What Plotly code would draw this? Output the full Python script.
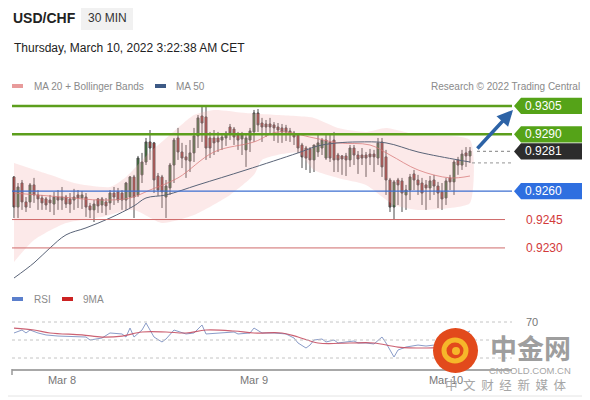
import pandas as pd
import plotly.graph_objects as go

# ---------------- data ----------------
times = pd.date_range("2022-03-07 18:00", periods=115, freq="30min")

open_ = [0.92675,0.92516,0.92643,0.92543,0.92543,0.92633,0.92580,0.92564,0.92559,0.92553,
         0.92532,0.92569,0.92553,0.92569,0.92559,0.92553,0.92580,0.92564,0.92569,0.92522,
         0.92501,0.92559,0.92527,0.92543,0.92538,0.92590,0.92596,0.92590,0.92553,0.92569,
         0.92675,0.92580,0.92686,0.92754,0.92860,0.92855,0.92680,0.92675,0.92569,0.92617,
         0.92738,0.92881,0.92807,0.92781,0.92759,0.92802,0.92892,0.92997,0.92992,0.92881,
         0.92881,0.92881,0.92870,0.92881,0.92939,0.92928,0.92897,0.92876,0.92818,0.92870,
         0.92913,0.93013,0.92960,0.92955,0.92955,0.92950,0.92939,0.92934,0.92934,0.92902,
         0.92907,0.92897,0.92844,0.92828,0.92823,0.92765,0.92807,0.92828,0.92775,0.92860,
         0.92870,0.92791,0.92786,0.92786,0.92765,0.92828,0.92791,0.92791,0.92791,0.92796,
         0.92796,0.92775,0.92860,0.92781,0.92659,0.92516,0.92659,0.92654,0.92580,0.92606,
         0.92691,0.92659,0.92643,0.92633,0.92617,0.92659,0.92627,0.92596,0.92564,0.92670,
         0.92649,0.92765,0.92738,0.92802,0.92786]
high = [0.92680,0.92643,0.92659,0.92569,0.92643,0.92670,0.92606,0.92580,0.92569,0.92580,
        0.92596,0.92606,0.92622,0.92580,0.92590,0.92612,0.92606,0.92601,0.92590,0.92538,
        0.92553,0.92564,0.92569,0.92564,0.92606,0.92622,0.92617,0.92606,0.92649,0.92680,
        0.92686,0.92786,0.92802,0.92881,0.92923,0.92860,0.92696,0.92686,0.92659,0.92749,
        0.92881,0.92934,0.92855,0.92844,0.92870,0.92934,0.93002,0.93055,0.93055,0.92913,
        0.92923,0.92913,0.92907,0.92918,0.92955,0.92939,0.92913,0.92913,0.92897,0.92934,
        0.93029,0.93034,0.92987,0.92976,0.92987,0.92965,0.92960,0.92955,0.92950,0.92934,
        0.92918,0.92907,0.92855,0.92839,0.92833,0.92844,0.92907,0.92881,0.92902,0.92897,
        0.92913,0.92802,0.92791,0.92802,0.92844,0.92844,0.92812,0.92828,0.92807,0.92823,
        0.92818,0.92881,0.92881,0.92818,0.92670,0.92659,0.92670,0.92670,0.92633,0.92691,
        0.92712,0.92686,0.92670,0.92659,0.92680,0.92686,0.92649,0.92643,0.92670,0.92686,
        0.92765,0.92781,0.92818,0.92833,0.92833]
low = [0.92458,0.92458,0.92501,0.92490,0.92511,0.92538,0.92501,0.92501,0.92501,0.92490,
       0.92474,0.92501,0.92501,0.92511,0.92485,0.92501,0.92511,0.92506,0.92464,0.92458,
       0.92437,0.92485,0.92485,0.92474,0.92501,0.92527,0.92538,0.92501,0.92501,0.92511,
       0.92458,0.92569,0.92643,0.92738,0.92765,0.92590,0.92575,0.92511,0.92458,0.92580,
       0.92643,0.92765,0.92722,0.92670,0.92701,0.92754,0.92828,0.92860,0.92765,0.92775,
       0.92791,0.92807,0.92818,0.92839,0.92870,0.92844,0.92818,0.92791,0.92728,0.92807,
       0.92860,0.92913,0.92860,0.92886,0.92897,0.92865,0.92855,0.92855,0.92865,0.92860,
       0.92844,0.92802,0.92722,0.92712,0.92696,0.92701,0.92781,0.92791,0.92765,0.92754,
       0.92701,0.92701,0.92686,0.92680,0.92728,0.92738,0.92691,0.92738,0.92675,0.92738,
       0.92701,0.92738,0.92675,0.92580,0.92490,0.92448,0.92527,0.92490,0.92501,0.92553,
       0.92606,0.92580,0.92527,0.92501,0.92553,0.92580,0.92511,0.92501,0.92527,0.92606,
       0.92580,0.92686,0.92712,0.92728,0.92749]
close = [0.92516,0.92622,0.92543,0.92516,0.92633,0.92580,0.92559,0.92538,0.92527,0.92538,
         0.92569,0.92553,0.92569,0.92532,0.92532,0.92569,0.92564,0.92580,0.92516,0.92501,
         0.92532,0.92522,0.92559,0.92522,0.92590,0.92569,0.92553,0.92553,0.92643,0.92675,
         0.92569,0.92775,0.92754,0.92860,0.92828,0.92659,0.92606,0.92596,0.92627,0.92738,
         0.92870,0.92807,0.92775,0.92765,0.92802,0.92892,0.92987,0.92960,0.92828,0.92828,
         0.92855,0.92860,0.92886,0.92907,0.92907,0.92886,0.92870,0.92897,0.92881,0.92918,
         0.93013,0.92950,0.92939,0.92939,0.92939,0.92934,0.92923,0.92913,0.92913,0.92918,
         0.92886,0.92828,0.92781,0.92775,0.92765,0.92844,0.92855,0.92870,0.92870,0.92775,
         0.92765,0.92765,0.92770,0.92765,0.92828,0.92791,0.92770,0.92775,0.92775,0.92781,
         0.92781,0.92855,0.92728,0.92659,0.92516,0.92649,0.92633,0.92590,0.92606,0.92675,
         0.92659,0.92633,0.92590,0.92617,0.92654,0.92627,0.92590,0.92559,0.92654,0.92649,
         0.92754,0.92738,0.92796,0.92786,0.92812]

ma50_idx = [0, 5, 9, 13, 18, 24, 30, 33, 38, 46, 58, 71, 76, 81, 86, 93, 101, 111, 114]
ma50_val = [0.92141, 0.92221, 0.92300, 0.92369, 0.92406, 0.92458, 0.92522, 0.92564, 0.92580,
            0.92633, 0.92712, 0.92802, 0.92839, 0.92855, 0.92860, 0.92855, 0.92807, 0.92765, 0.92754]

ma20_idx = [0, 12, 22, 29, 34, 41, 50, 60, 66, 75, 81, 89, 94, 101, 109, 114]
ma20_val = [0.92590, 0.92569, 0.92553, 0.92564, 0.92606, 0.92670, 0.92807, 0.92860, 0.92913,
            0.92881, 0.92855, 0.92844, 0.92791, 0.92712, 0.92670, 0.92680]

bb_up_idx = [0, 9, 15, 24, 28, 34, 39, 45, 50, 58, 66, 75, 81, 88, 93, 101, 114]
bb_up_val = [0.92749, 0.92686, 0.92643, 0.92622, 0.92675, 0.92807, 0.92897, 0.93002, 0.93029,
             0.93013, 0.93002, 0.92987, 0.92934, 0.92913, 0.92934, 0.92897, 0.92870]
bb_lo_idx = [0, 5, 13, 22, 30, 37, 45, 54, 60, 62, 71, 75, 81, 88, 95, 101, 109, 114]
bb_lo_val = [0.92226, 0.92342, 0.92432, 0.92464, 0.92501, 0.92432, 0.92474, 0.92580, 0.92686,
             0.92765, 0.92802, 0.92712, 0.92670, 0.92633, 0.92527, 0.92501, 0.92511, 0.92538]

rsi_idx = [0, 2, 3, 4, 6, 8, 11, 15, 18, 19, 22, 24, 27, 28, 29, 30, 32, 33, 35, 37, 38, 40, 42,
           43, 45, 47, 48, 52, 55, 56, 59, 60, 62, 65, 68, 70, 71, 73, 74, 75, 77, 78, 80, 81, 83,
           85, 86, 88, 90, 92, 93, 95, 96, 98, 101, 103, 105, 108, 110, 112, 114]
rsi_val = [57.8, 61.1, 57.8, 61.1, 57.8, 55.6, 54.4, 53.3, 53.3, 50.0, 52.2, 57.8, 56.7, 53.3,
           63.3, 53.3, 61.1, 68.9, 53.3, 47.8, 51.1, 61.1, 57.8, 56.7, 57.8, 66.7, 56.7, 57.8,
           58.9, 56.7, 57.8, 63.3, 57.8, 57.8, 56.7, 52.2, 46.7, 41.1, 44.4, 50.0, 51.1, 47.8,
           50.0, 46.7, 47.8, 48.9, 46.7, 46.7, 45.6, 53.3, 46.7, 31.1, 38.9, 42.2, 44.4, 43.3,
           44.4, 41.1, 50.0, 55.6, 60.0]
ma9_idx = [0, 5, 9, 17, 22, 27, 32, 38, 43, 48, 55, 60, 67, 71, 76, 84, 90, 96, 103, 108, 114]
ma9_val = [63.3, 61.1, 57.8, 55.6, 53.3, 54.4, 58.9, 58.9, 57.8, 61.1, 60.0, 57.8, 57.8, 53.3,
           46.7, 46.7, 46.7, 42.2, 41.1, 42.0, 47.0]
rsi_levels = [70, 50, 30]

res_levels = [0.9305, 0.9290]
cur_price = 0.9281
piv_level = 0.9260
sup_levels = [0.9245, 0.9230]
ma50_last = 0.92749

tick_dates = ["2022-03-08", "2022-03-09", "2022-03-10"]
tick_text = ["Mar 8", "Mar 9", "Mar 10"]

# ---------------- helpers (page pixel -> paper); page has an 8px body margin ----------------
OFF = 8
W, H = 590 - OFF, 400 - OFF
L, R, T, B = 12, 512, 95, 369          # plot area in page pixels
def px(x):
    return (x - L) / (R - L)
def py(y):
    return (B - y) / (B - T)

FONT = "Liberation Sans, Arial, sans-serif"
half = 0.00043

fig = go.Figure()

# Bollinger band fill
bx = [times[i] for i in bb_up_idx] + [times[i] for i in bb_lo_idx][::-1]
byv = bb_up_val + bb_lo_val[::-1]
fig.add_trace(go.Scatter(x=bx, y=byv, fill="toself", mode="lines",
                         line=dict(width=0, shape="spline", smoothing=0.6),
                         fillcolor="rgba(245,170,170,0.26)", hoverinfo="skip"))
fig.add_trace(go.Scatter(x=[times[i] for i in ma20_idx], y=ma20_val, mode="lines",
                         line=dict(color="rgba(215,120,120,0.75)", width=1, shape="spline"),
                         hoverinfo="skip"))
fig.add_trace(go.Scatter(x=[times[i] for i in ma50_idx], y=ma50_val, mode="lines",
                         line=dict(color="#5a6478", width=1, shape="spline"),
                         hoverinfo="skip"))

fig.add_trace(go.Candlestick(
    x=times, open=open_, high=high, low=low, close=close,
    increasing=dict(line=dict(color="#4a4a4a", width=1), fillcolor="#3a8236"),
    decreasing=dict(line=dict(color="#4a4a4a", width=1), fillcolor="#c9302c"),
    whiskerwidth=0, hoverinfo="skip"))

# RSI
fig.add_trace(go.Scatter(x=[times[i] for i in rsi_idx], y=rsi_val, mode="lines",
                         line=dict(color="#8a9cc8", width=1), xaxis="x2", yaxis="y2",
                         hoverinfo="skip"))
fig.add_trace(go.Scatter(x=[times[i] for i in ma9_idx], y=ma9_val, mode="lines",
                         line=dict(color="rgba(195,70,90,0.85)", width=1.2, shape="spline"),
                         xaxis="x2", yaxis="y2", hoverinfo="skip"))

shapes = []
annos = []

# card border (right and bottom edges)
shapes.append(dict(type="line", xref="paper", yref="paper", x0=px(587.5), x1=px(587.5), y0=py(396), y1=py(8),
                   line=dict(color="#e4e4e4", width=1), layer="below"))
shapes.append(dict(type="line", xref="paper", yref="paper", x0=px(8), x1=px(587.5), y0=py(396), y1=py(396),
                   line=dict(color="#e4e4e4", width=1), layer="below"))

# resistance lines
for lv in res_levels:
    shapes.append(dict(type="line", xref="paper", yref="y", x0=0, x1=1, y0=lv, y1=lv,
                       line=dict(color="#5c9e1c", width=2.5)))
shapes.append(dict(type="line", xref="paper", yref="y", x0=0, x1=1, y0=piv_level, y1=piv_level,
                   line=dict(color="#3d6fd1", width=1.3)))
for lv in sup_levels:
    shapes.append(dict(type="line", xref="paper", yref="y", x0=0, x1=px(505), y0=lv, y1=lv,
                       line=dict(color="#cf6a6a", width=1)))
# dotted lines to current price
shapes.append(dict(type="line", xref="paper", yref="y", x0=px(477), x1=px(512), y0=cur_price, y1=cur_price,
                   line=dict(color="#999", width=1.2, dash="dot")))
shapes.append(dict(type="line", xref="paper", yref="y", x0=px(472), x1=px(512), y0=ma50_last, y1=ma50_last,
                   line=dict(color="#aaa", width=1.2, dash="dot")))

def tag(level, color, text):
    xt, xs, xr = px(514), px(521), px(586)
    shapes.append(dict(type="path", xref="paper", yref="y",
                       path=f"M {xt},{level} L {xs},{level+half} L {xr},{level+half} L {xr},{level-half} L {xs},{level-half} Z",
                       fillcolor=color, line=dict(width=0)))
    annos.append(dict(xref="paper", yref="y", x=px(523), y=level, text=text, showarrow=False,
                      xanchor="left", yanchor="middle", font=dict(color="white", size=12, family=FONT)))

tag(res_levels[0], "#55a318", "0.9305")
tag(res_levels[1], "#55a318", "0.9290")
tag(cur_price, "#2c2c2c", "0.9281")
tag(piv_level, "#2f6fe0", "0.9260")
for lv, t in zip(sup_levels, ["0.9245", "0.9230"]):
    annos.append(dict(xref="paper", yref="y", x=px(524), y=lv, text=t, showarrow=False,
                      xanchor="left", yanchor="middle", font=dict(color="#d23a3a", size=12, family=FONT)))

# arrow
annos.append(dict(xref="paper", yref="y", x=px(513), y=0.93029, ax=-37, ay=40,
                  showarrow=True, arrowhead=2, arrowsize=0.9, arrowwidth=3.5, arrowcolor="#2d63a6", text=""))

# RSI dotted levels
for lv in rsi_levels:
    shapes.append(dict(type="line", xref="paper", yref="y2", x0=0, x1=1, y0=lv, y1=lv,
                       line=dict(color="#c4c4c4", width=1, dash="dot")))
annos.append(dict(xref="paper", yref="y2", x=px(524), y=70, text="70", showarrow=False,
                  xanchor="left", yanchor="middle", font=dict(color="#777", size=11, family=FONT)))
shapes.append(dict(type="line", xref="paper", yref="paper", x0=px(12), x1=px(12), y0=py(369), y1=py(375),
                   line=dict(color="#999", width=1.5)))

# header
annos.append(dict(xref="paper", yref="paper", x=px(11), y=py(18), text="<b>USD/CHF</b>", showarrow=False,
                  xanchor="left", yanchor="middle", font=dict(color="#222", size=14, family=FONT)))
shapes.append(dict(type="rect", xref="paper", yref="paper", x0=px(81), x1=px(133), y0=py(30), y1=py(6),
                   fillcolor="#f1f1f1", line=dict(width=0)))
annos.append(dict(xref="paper", yref="paper", x=px(107), y=py(18), text="30 MIN", showarrow=False,
                  xanchor="center", yanchor="middle", font=dict(color="#333", size=12, family=FONT)))
annos.append(dict(xref="paper", yref="paper", x=px(12), y=py(48),
                  text="Thursday, March 10, 2022 3:22:38 AM CET", showarrow=False,
                  xanchor="left", yanchor="middle", font=dict(color="#222", size=12, family=FONT)))

# legends
def swatch(x0, y0, color):
    shapes.append(dict(type="rect", xref="paper", yref="paper", x0=px(x0), x1=px(x0 + 11),
                       y0=py(y0 + 2), y1=py(y0 - 2), fillcolor=color, line=dict(width=0)))
def ltext(x, y, t, anchor="left"):
    annos.append(dict(xref="paper", yref="paper", x=px(x), y=py(y), text=t, showarrow=False,
                      xanchor=anchor, yanchor="middle", font=dict(color="#8a8a8a", size=10, family=FONT)))
swatch(12, 86, "#e89b9b"); ltext(32, 86, "MA 20 + Bollinger Bands")
swatch(155, 86, "#3d5a86"); ltext(174, 86, "MA 50")
ltext(582, 86, "Research © 2022 Trading Central", anchor="right")
swatch(12, 299, "#5b7fcc"); ltext(32, 299, "RSI")
swatch(62, 299, "#cc2222"); ltext(81, 299, "9MA")

# watermark
shapes.append(dict(type="circle", xref="paper", yref="paper", x0=px(433), x1=px(478), y0=py(373), y1=py(328),
                   fillcolor="#e24a1c", line=dict(width=0)))
shapes.append(dict(type="circle", xref="paper", yref="paper", x0=px(444), x1=px(466), y0=py(361), y1=py(340),
                   fillcolor="rgba(0,0,0,0)", line=dict(color="#f6b72a", width=5)))
shapes.append(dict(type="circle", xref="paper", yref="paper", x0=px(452), x1=px(460), y0=py(355), y1=py(347),
                   fillcolor="#f6b72a", line=dict(width=0)))
annos.append(dict(xref="paper", yref="paper", x=px(530), y=py(347), text="<b>中金网</b>", showarrow=False,
                  xanchor="center", yanchor="middle",
                  font=dict(color="#9e9e9e", size=27, family="Noto Sans CJK SC")))
annos.append(dict(xref="paper", yref="paper", x=px(530), y=py(370), text="CNGOLD.COM.CN", showarrow=False,
                  xanchor="center", yanchor="middle", font=dict(color="#a6a6a6", size=9.5, family=FONT)))
annos.append(dict(xref="paper", yref="paper", x=px(506), y=py(384),
                  text="中&nbsp; 文&nbsp; 财&nbsp; 经&nbsp; 新&nbsp; 媒&nbsp; 体", showarrow=False,
                  xanchor="center", yanchor="middle",
                  font=dict(color="#a6a6a6", size=12.5, family="Noto Sans CJK SC")))

xr = [times[0] - pd.Timedelta(minutes=15), times[0] + pd.Timedelta(minutes=30 * 124.5)]

fig.update_layout(
    width=W, height=H,
    margin=dict(l=L - OFF, r=W - (R - OFF), t=T - OFF, b=H - (B - OFF), autoexpand=False),
    paper_bgcolor="white", plot_bgcolor="white",
    showlegend=False,
    shapes=shapes, annotations=annos,
    xaxis=dict(domain=[0, 1], range=xr, anchor="y", visible=False,
               rangeslider=dict(visible=False), showgrid=False),
    yaxis=dict(domain=[py(282), 1], range=[0.92120, 0.93108], visible=False, showgrid=False),
    xaxis2=dict(domain=[0, 1], range=xr, anchor="y2", matches="x", showgrid=False,
                showline=True, linecolor="#a8a8a8", linewidth=2, ticks="",
                tickvals=pd.to_datetime(tick_dates), ticktext=tick_text,
                tickfont=dict(color="#777", size=11, family=FONT)),
    yaxis2=dict(domain=[0, py(312)], range=[17.8, 81.1], visible=False, showgrid=False),
    font=dict(family=FONT),
)

fig.write_html("out.html")
